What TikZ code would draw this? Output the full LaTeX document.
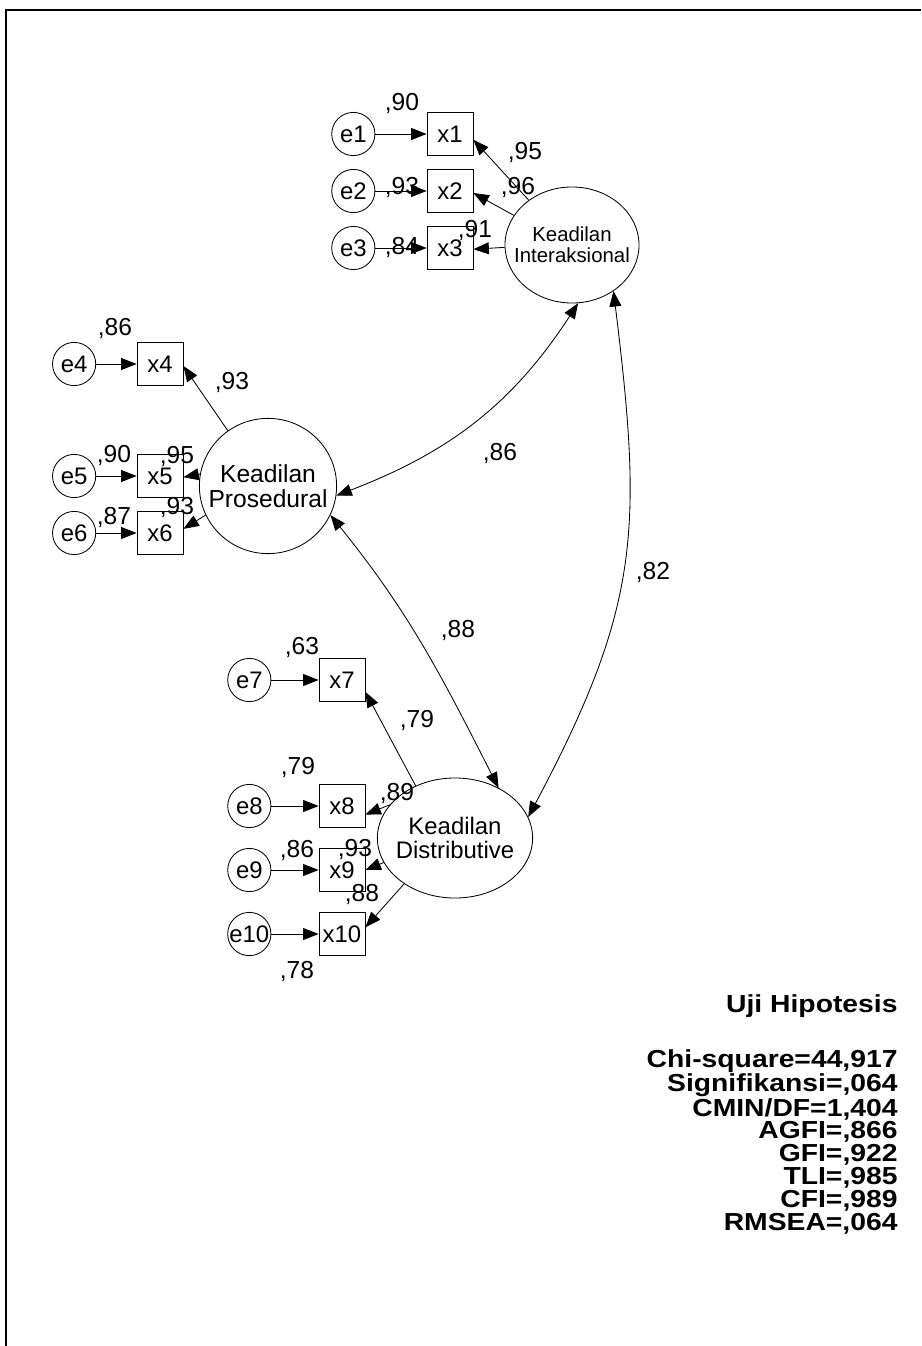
\documentclass[tikz,border=0pt]{standalone}
\usepackage{fontspec}
\setmainfont{Liberation Sans}
\newfontfamily\statfont[FakeStretch=1.15]{Liberation Sans}
\usetikzlibrary{arrows.meta, positioning, shapes.geometric}

\begin{document}
\begin{tikzpicture}[
    x=0.025cm, y=0.025cm,
    font=\fontsize{17.5}{19}\selectfont,
    line width=0.6pt,
    arr/.style={
        -{Triangle[length=11pt, width=8.5pt]},
    },
    cov/.style={
        {Triangle[length=11pt, width=8.5pt]}-{Triangle[length=11pt, width=8.5pt]},
    },
    errnode/.style={
        circle, draw, inner sep=0pt, minimum size=1.08cm,
        font=\fontsize{17}{19}\selectfont,
    },
    obsbox/.style={
        rectangle, draw, inner sep=0pt,
        minimum width=1.15cm, minimum height=1.08cm,
        font=\fontsize{17}{19}\selectfont,
    },
    latent/.style={
        ellipse, draw, inner sep=-1cm, align=center,
    },
    est/.style={inner sep=0pt},
    stattext/.style={
        font=\statfont\fontsize{17.5}{16.3}\selectfont\bfseries,
        inner sep=0pt, align=right,
    },
]
\useasboundingbox (0,0) rectangle (921,-1346);

% -- frame --
\draw[line width=1.6pt] (6,-1346) -- (6,-10) -- (921,-10);

% -- Keadilan Interaksional --
\node[latent, minimum width=3.35cm, minimum height=2.9cm,
      font=\fontsize{14.5}{15}\selectfont] (inter) at (572,-245) {Keadilan\\Interaksional};
\node[obsbox] (x1) at (450,-134) {x1};
\node[obsbox] (x2) at (450,-191) {x2};
\node[obsbox] (x3) at (450,-248) {x3};
\node[errnode, left=1.28cm of x1] (e1) {e1};
\node[errnode, left=1.28cm of x2] (e2) {e2};
\node[errnode, left=1.28cm of x3] (e3) {e3};

\draw[arr] (e1) -- (x1);
\draw[arr] (e2) -- (x2);
\draw[arr] (e3) -- (x3);
\draw[arr] (inter.134) -- (x1.-14);
\draw[arr] (inter.153) -- (x2.-5);
\draw[arr] (inter.182) -- (x3.-3);

\node[est] (r1) at (402,-103) {,90};
\node[est] (r2) at (402,-187) {,93};
\node[est] (r3) at (402,-247) {,84};
\node[est] (l1) at (525,-152) {,95};
\node[est] (l2) at (518,-187) {,96};
\node[est] (l3) at (475,-230) {,91};

% -- Keadilan Prosedural --
\node[latent, minimum width=3.43cm, minimum height=3.38cm,
      font=\fontsize{17.5}{18}\selectfont] (prose) at (268,-486) {Keadilan\\Prosedural};
\node[obsbox] (x4) at (160,-364) {x4};
\node[obsbox] (x5) at (160,-476) {x5};
\node[obsbox] (x6) at (160,-533) {x6};
\node[errnode, left=1.01cm of x4] (e4) {e4};
\node[errnode, left=1.01cm of x5] (e5) {e5};
\node[errnode, left=1.01cm of x6] (e6) {e6};

\draw[arr] (e4) -- (x4);
\draw[arr] (e5) -- (x5);
\draw[arr] (e6) -- (x6);
\draw[arr] (prose.126) -- (x4.-5);
\draw[arr] (prose.170) -- (x5.-3);
\draw[arr] (prose.205) -- (x6.10);

\node[est] (r4) at (115,-328) {,86};
\node[est] (r5) at (114,-455) {,90};
\node[est] (r6) at (114,-517) {,87};
\node[est] (l4) at (232,-382) {,93};
\node[est] (l5) at (177,-456) {,95};
\node[est] (l6) at (177,-507) {,93};

% -- Keadilan Distributive --
\node[latent, minimum width=3.88cm, minimum height=3.0cm,
      font=\fontsize{17}{16.5}\selectfont] (distr) at (455,-838) {Keadilan\\Distributive};
\node[obsbox] (x7) at (342,-680) {x7};
\node[obsbox] (x8) at (342,-806) {x8};
\node[obsbox] (x9) at (342,-870) {x9};
\node[obsbox] (x10) at (342,-934) {x10};
\node[errnode, left=1.18cm of x7] (e7) {e7};
\node[errnode, left=1.18cm of x8] (e8) {e8};
\node[errnode, left=1.18cm of x9] (e9) {e9};
\node[errnode, left=1.18cm of x10] (e10) {e10};

\draw[arr] (e7) -- (x7);
\draw[arr] (e8) -- (x8);
\draw[arr] (e9) -- (x9);
\draw[arr] (e10) -- (x10);
\draw[arr] (distr.127) -- (x7.-27);
\draw[arr] (distr.153) -- (x8.-20);
\draw[arr] (distr.199) -- (x9.0);
\draw[arr] (distr.222) -- (x10.16);

\node[est] (r7) at (302,-647) {,63};
\node[est] (r8) at (298,-767) {,79};
\node[est] (r9) at (297,-850) {,86};
\node[est] (r10) at (297,-971) {,78};
\node[est] (l7) at (417,-720) {,79};
\node[est] (l8) at (397,-793) {,89};
\node[est] (l9) at (355,-849) {,93};
\node[est] (l10) at (362,-894) {,88};

% ============ COVARIANCES ============
\draw[cov] (inter.-84) to[out=237, in=21] (prose.-8);
\draw[cov] (inter.-48) to[out=277, in=62, looseness=1.15] (distr.16);
\draw[cov] (prose.-25) to[out=309, in=117] (distr.49);

\node[est] (c1) at (500,-453) {,86};
\node[est] (c2) at (653,-572) {,82};
\node[est] (c3) at (458,-630) {,88};

% ============ FIT SUMMARY ============
\node[stattext, anchor=base east] (ujititle) at (898,-1012) {Uji Hipotesis};
\node[stattext, anchor=north east] (fitstats) at (898,-1049) {%
    Chi-square=44,917\\
    Signifikansi=,064\\
    CMIN/DF=1,404\\
    AGFI=,866\\
    GFI=,922\\
    TLI=,985\\
    CFI=,989\\
    RMSEA=,064};

\end{tikzpicture}
\end{document}
